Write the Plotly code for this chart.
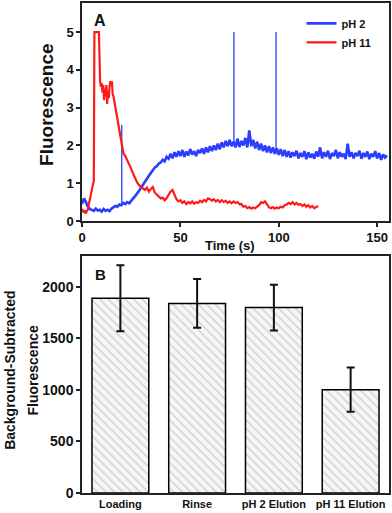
import numpy as np
import plotly.graph_objects as go

# ---- panel A: fluorescence traces ----
# pH 2 trace, one sample per second from 0 to 155 s
blue_v = [0.45, 0.6, 0.5, 0.38, 0.32,
          0.3, 0.27, 0.33, 0.28, 0.3, 0.25, 0.32, 0.27, 0.3, 0.26,
          0.33, 0.36, 0.4, 0.38, 0.44,
          0.42, 0.48, 0.45, 0.5, 0.47,
          0.55, 0.6, 0.66, 0.72, 0.8,
          0.88, 0.95, 1.05, 1.12, 1.2,
          1.28, 1.33, 1.42, 1.45, 1.52,
          1.55, 1.62, 1.58, 1.7, 1.65,
          1.78, 1.66, 1.82, 1.7, 1.85,
          1.72, 1.88, 1.7, 1.84, 1.74,
          1.9, 1.76, 1.85, 1.72, 1.88,
          1.8, 1.92, 1.78, 1.95, 1.82,
          1.98, 1.85, 2.0, 1.88, 2.05,
          1.9, 2.08, 1.95, 2.12, 1.98,
          2.15, 1.98, 2.1, 1.95, 2.18,
          1.96, 2.12, 2.0, 2.2, 1.95,
          2.4, 1.98, 2.15, 1.92, 2.1,
          1.88, 2.05, 1.85, 2.0, 1.82,
          1.98, 1.8, 1.95, 1.78, 1.92,
          1.75, 1.9, 1.72, 1.88, 1.7,
          1.85, 1.68, 1.82, 1.72, 1.86,
          1.66, 1.8, 1.7, 1.85, 1.64,
          1.82, 1.68, 1.78, 1.65, 1.84,
          1.7, 1.95, 1.66, 1.82, 1.7,
          1.86, 1.64, 1.8, 1.72, 1.88,
          1.66, 1.82, 1.7, 1.78, 1.64,
          2.05, 1.7, 1.82, 1.66, 1.8,
          1.72, 1.86, 1.65, 1.8, 1.7,
          1.84, 1.64, 1.78, 1.7, 1.85,
          1.66, 1.8, 1.62, 1.76, 1.68, 1.74]
blue_t = list(range(len(blue_v)))
# single-sample spikes in the pH 2 trace
blue_spike_t = [20.2, 77.2, 98.6]
blue_spike_v = [2.55, 5.0, 5.0]

# pH 11 trace, early part (irregular times around the saturated peak)
red_t_early = [0, 0.5, 1, 1.5, 2, 2.5, 3, 3.5, 4, 4.5,
               5, 5.5, 6, 6.3, 7, 8, 8.6, 9.2, 9.6, 10,
               10.4, 10.8, 11.2, 11.6, 12, 12.4, 12.8, 13.2, 13.6, 14,
               14.4, 14.8, 15.2, 15.6, 16, 16.5, 17, 17.5, 18, 18.5,
               19, 19.5, 20, 20.5]
red_v_early = [0.32, 0.25, 0.22, 0.28, 0.2, 0.27, 0.3, 0.45, 0.6, 0.7,
               0.8, 0.95, 1.05, 5.0, 5.0, 5.0, 5.0, 3.7, 3.55, 3.65,
               3.4, 3.6, 3.2, 3.5, 3.3, 3.6, 3.1, 3.45, 3.25, 3.55,
               3.7, 3.6, 3.7, 3.35, 3.3, 3.15, 3.0, 2.8, 2.6, 2.45,
               2.3, 2.15, 2.0, 1.9]
# pH 11 trace, 21 s to 120 s, one sample per second
red_v_late = [1.8, 1.72, 1.62, 1.5, 1.38,
              1.25, 1.12, 1.02, 0.95, 0.9,
              0.86, 0.82, 0.88, 0.78, 0.85,
              0.9, 0.75, 0.7, 0.65, 0.6,
              0.62, 0.55, 0.6, 0.68, 0.78,
              0.82, 0.7, 0.58, 0.52, 0.55,
              0.48, 0.52, 0.45, 0.5, 0.47,
              0.52, 0.46, 0.5, 0.48, 0.54,
              0.5, 0.56, 0.52, 0.6, 0.58,
              0.54, 0.58, 0.52, 0.56, 0.5,
              0.55, 0.5, 0.54, 0.48, 0.52,
              0.47, 0.52, 0.48, 0.5, 0.44,
              0.45, 0.38, 0.4, 0.34, 0.37,
              0.33, 0.36, 0.34, 0.38, 0.42,
              0.5, 0.48, 0.52, 0.42, 0.36,
              0.34, 0.37, 0.33, 0.36, 0.34,
              0.38, 0.36, 0.42, 0.44, 0.48,
              0.45, 0.5, 0.44, 0.48, 0.43,
              0.45, 0.4, 0.44, 0.38, 0.42,
              0.36, 0.4, 0.34, 0.38, 0.4]
red_t_late = list(range(21, 21 + len(red_v_late)))

# ---- panel B: bar chart ----
steps = ['Loading', 'Rinse', 'pH 2 Elution', 'pH 11 Elution']
bar_vals = [1890, 1840, 1800, 1003]
bar_err = [320, 237, 222, 214]

red_t = red_t_early + red_t_late
red_v = red_v_early + red_v_late

# spikes drawn as thin vertical strokes rising from the trace
spike_x, spike_y = [], []
for t, v in zip(blue_spike_t, blue_spike_v):
    spike_x += [t, t, None]
    spike_y += [float(np.interp(t, blue_t, blue_v)), v, None]

FONT = 'Liberation Sans, Arial, sans-serif'
BLUE = '#2b3dff'
RED = '#ff1a1a'

fig = go.Figure()
fig.add_trace(go.Scatter(x=blue_t, y=blue_v, mode='lines', name='pH 2',
                         line=dict(color=BLUE, width=2.6),
                         xaxis='x', yaxis='y'))
fig.add_trace(go.Scatter(x=spike_x, y=spike_y, mode='lines', showlegend=False,
                         line=dict(color=BLUE, width=1.3),
                         xaxis='x', yaxis='y'))
fig.add_trace(go.Scatter(x=red_t, y=red_v, mode='lines', name='pH 11',
                         line=dict(color=RED, width=2.2),
                         xaxis='x', yaxis='y'))
fig.add_trace(go.Bar(x=steps, y=bar_vals, width=0.74, showlegend=False,
                     marker=dict(color='white',
                                 line=dict(color='black', width=1.5),
                                 pattern=dict(shape='\\', fgcolor='#a0a0a0',
                                              bgcolor='#f6f6f6', size=6,
                                              solidity=0.2)),
                     error_y=dict(type='data', array=bar_err, color='#111',
                                  thickness=2, width=4),
                     xaxis='x2', yaxis='y2'))

axis_common = dict(showline=True, linecolor='#222', linewidth=1.5,
                   mirror=True, showgrid=False, zeroline=False,
                   ticks='outside', ticklen=4, tickwidth=1.5, tickcolor='#222',
                   tickfont=dict(family=FONT, size=13, color='#111', weight='bold'))

def label(text, x, y, size, angle=0):
    return dict(text=text, x=x, y=y, xref='paper', yref='paper',
                showarrow=False, xanchor='center', yanchor='middle',
                textangle=angle, font=dict(family=FONT, size=size, weight='bold'))

fig.update_layout(
    width=392, height=513,
    margin=dict(l=82, r=3, t=3, b=20, autoexpand=False),
    paper_bgcolor='white', plot_bgcolor='white',
    font=dict(family=FONT, color='#111'),
    xaxis=dict(axis_common, domain=[0, 1], anchor='y', range=[0, 156],
               tickvals=[0, 50, 100, 150]),
    yaxis=dict(axis_common, domain=[0.555, 1], anchor='x', range=[0, 5.77],
               tickvals=[0, 1, 2, 3, 4, 5]),
    xaxis2=dict(axis_common, domain=[0, 1], anchor='y2', ticks='',
                tickfont=dict(family=FONT, size=11, color='#111', weight='bold')),
    yaxis2=dict(axis_common, domain=[0, 0.4837], anchor='x2', range=[0, 2300],
                tickvals=[0, 500, 1000, 1500, 2000],
                tickfont=dict(family=FONT, size=14, color='#111', weight='bold')),
    legend=dict(x=0.715, y=0.988, xanchor='left', yanchor='top',
                bgcolor='rgba(0,0,0,0)', itemwidth=30, tracegroupgap=0,
                font=dict(family=FONT, size=11, color='#111', weight='bold')),
    annotations=[
        label('A', 0.06, 0.965, 16),
        label('B', 0.06, 0.445, 15),
        label('Fluorescence', -0.114, 0.792, 19, -90),
        label('Time (s)', 0.482, 0.506, 13),
        label('Background-Subtracted', -0.235, 0.251, 14, -90),
        label('Fluorescence', -0.158, 0.251, 14, -90),
    ],
)

# the page opens with the browser's default body margin; remove it
fig.write_html('out.html', config={'displayModeBar': False},
               post_script="document.body.style.margin='0';document.body.style.overflow='hidden';")
